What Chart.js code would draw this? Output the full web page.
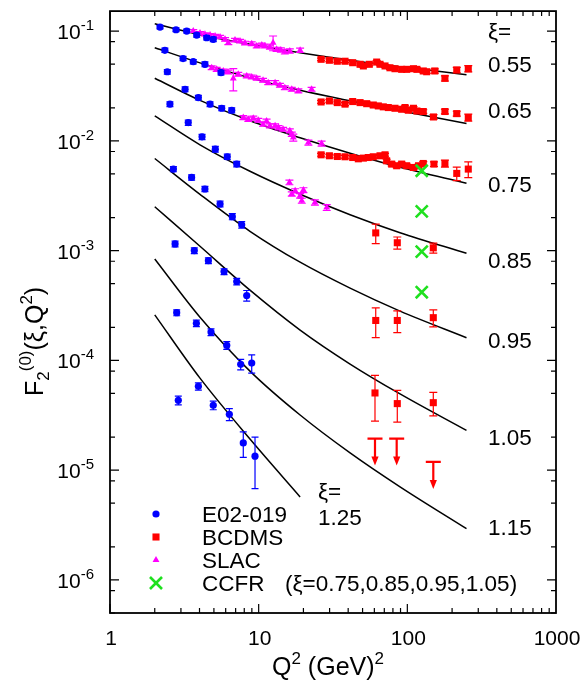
<!DOCTYPE html>
<html>
<head>
<meta charset="utf-8">
<script src="https://cdn.jsdelivr.net/npm/chart.js@4.4.1/dist/chart.umd.min.js"></script>
<style>
  html, body { margin: 0; padding: 0; background: #ffffff; }
  #wrap { width: 587px; height: 685px; position: relative; }
</style>
</head>
<body>
<div id="wrap"><canvas id="chart"></canvas></div>
<script>
// ---- axes ----
const X_MIN = 1, X_MAX = 1000;
const Y_MIN = 5e-7, Y_MAX = 0.152;
const xTickValues = [1, 10, 100, 1000];
const xTickLabels = ['1', '10', '100', '1000'];
const yTickExponents = [-6, -5, -4, -3, -2, -1];
const yMinorMantissas = [2, 5, 8];

// ---- curve labels ----
const xiLabels = ['0.55', '0.65', '0.75', '0.85', '0.95', '1.05', '1.15'];

// ---- model curves  [Q2, F2] ----
const curve055 = [[2.0,0.1165],[4.03,0.0926],[8.74,0.07586],[19.0,0.06349],[41.2,0.05426],[89.3,0.04737],[250,0.04006]];
const curve065 = [[2.0,0.0705],[4.03,0.0513],[8.74,0.03747],[19.0,0.02884],[41.2,0.02314],[89.3,0.01878],[250,0.01439]];
const curve075 = [[2.0,0.0372],[4.03,0.02339],[8.74,0.01523],[19.0,0.01067],[41.2,0.00772],[89.3,0.00575],[250,0.004115]];
const curve085 = [[2.0,0.01688],[4.03,0.0092],[8.74,0.00528],[19.0,0.003263],[41.2,0.002125],[89.3,0.001457],[250,0.000945]];
const curve095 = [[2.0,0.0069],[4.03,0.003256],[8.74,0.001501],[19.0,0.000784],[41.2,0.000455],[89.3,0.000281],[250,0.0001609]];
const curve105 = [[2.0,0.00251],[4.03,0.001096],[8.74,0.0004365],[19.0,0.000189],[41.2,9.27e-5],[89.3,4.95e-5],[250,2.30e-5]];
const curve115 = [[2.0,8.4e-4],[4.03,2.475e-4],[8.74,7.99e-5],[19.0,3.18e-5],[41.2,1.437e-5],[89.3,7.05e-6],[250,2.93e-6]];
const curve125 = [[2.0,2.6e-4],[4.03,6.89e-5],[8.74,1.921e-5],[19.0,5.71e-6]];

// ---- E02-019  [Q2, F2, error] ----
const e02_055 = [[2.17,0.1087,0.004],[2.78,0.1028,0.004],[3.28,0.1000,0.004],[3.83,0.0920,0.004],[4.47,0.0869,0.004],[4.95,0.0841,0.004]];
const e02_065 = [[2.34,0.0668,0.003],[3.10,0.0562,0.0025],[3.63,0.0526,0.0025],[4.35,0.0498,0.0025],[5.58,0.0418,0.002]];
const e02_075 = [[2.43,0.0426,0.002],[3.20,0.0295,0.0015],[3.93,0.0248,0.0012],[4.71,0.0216,0.0011],[5.64,0.0198,0.001],[6.59,0.0190,0.001]];
const e02_085 = [[2.53,0.0216,0.0011],[3.36,0.01466,0.0008],[4.16,0.01087,0.0006],[5.11,0.0084,0.0005],[6.15,0.00716,0.0004],[7.12,0.00614,0.00035]];
const e02_095 = [[2.67,0.00553,0.0003],[3.54,0.00464,0.00025],[4.35,0.00364,0.0002],[5.50,0.00266,0.00016],[6.65,0.00204,0.00013],[7.69,0.00172,0.00012]];
const e02_105 = [[2.74,0.00115,0.00007],[3.69,0.00100,0.00006],[4.59,0.00081,0.00005],[5.85,0.000644,0.00004],[7.12,0.000523,0.000035],[8.31,0.00039,0.000043]];
const e02_115 = [[2.81,2.72e-4,1.7e-5],[3.81,2.18e-4,1.5e-5],[4.78,1.81e-4,1.3e-5],[6.10,1.37e-4,1.1e-5],[7.57,9.2e-5,1.0e-5],[8.98,9.45e-5,1.8e-5]];
const e02_125 = [[2.88,4.33e-5,4e-6],[3.93,5.8e-5,4.5e-6],[4.95,3.9e-5,3.5e-6],[6.35,3.23e-5,4e-6],[7.88,1.77e-5,4.6e-6],[9.45,1.34e-5,6.6e-6]];

// ---- BCDMS  [Q2, F2, error] ----
const bcdms_055 = [[26.3,0.0553,0.0015],[29.9,0.0542,0.0015],[33.8,0.0531,0.0015],[38.1,0.0531,0.0015],[42.9,0.0515,0.0015],[48.1,0.0498,0.0015],[50.6,0.0481,0.0015],[55.5,0.0498,0.0015],[62.2,0.0522,0.0015],[65.5,0.0498,0.0015],[70.8,0.0481,0.0015],[76.4,0.0463,0.0015],[82.6,0.0454,0.0015],[91.6,0.0448,0.0015],[99.0,0.0448,0.0015],[110,0.0454,0.0015],[116,0.0448,0.0015],[128,0.0433,0.0015],[135,0.0426,0.0015],[153,0.0433,0.002],[179,0.0371,0.002],[215,0.0442,0.0025],[257,0.0454,0.003]];
const bcdms_065 = [[26.3,0.0226,0.0007],[29.9,0.0231,0.0007],[33.8,0.0223,0.0007],[38.1,0.0216,0.0007],[42.9,0.0228,0.0007],[48.1,0.0223,0.0007],[53.3,0.0218,0.0007],[59.0,0.0212,0.0007],[63.8,0.0208,0.0007],[68.9,0.0204,0.0007],[74.5,0.0201,0.0007],[82.6,0.0198,0.0007],[91.6,0.0194,0.0007],[96.5,0.0201,0.0007],[101.5,0.0190,0.0007],[110,0.0198,0.0007],[116,0.0187,0.0007],[128,0.0185,0.0007],[150,0.0165,0.0008],[179,0.0185,0.0009],[215,0.0177,0.0009],[257,0.0163,0.0012]];
const bcdms_075 = [[26.3,0.00746,0.00022],[29.9,0.00731,0.00022],[33.8,0.00720,0.00022],[38.1,0.00716,0.00022],[42.9,0.00705,0.00022],[46.8,0.00686,0.00022],[50.6,0.00696,0.00022],[54.6,0.00705,0.00022],[59.0,0.00716,0.00022],[65.5,0.00731,0.00022],[70.8,0.00746,0.00022],[72.6,0.00658,0.00022],[78.5,0.00614,0.00022],[84.8,0.00593,0.00022],[91.6,0.00614,0.00022],[99.0,0.00593,0.00022],[110,0.00572,0.00022],[119,0.00593,0.00022],[128,0.00622,0.00025],[151,0.00614,0.0003],[179,0.00622,0.00045],[215,0.00505,0.0007],[257,0.00553,0.0009]];
const bcdms_085 = [[61.3,0.00145,0.00029],[85.6,0.00118,0.00015],[149.5,0.00106,0.00011]];
const bcdms_095 = [[61.3,2.31e-4,0.7e-4],[85.6,2.31e-4,0.52e-4],[149.5,2.45e-4,0.43e-4]];
const bcdms_105 = [[60.6,5.05e-5,2.25e-5],[85.6,4.04e-5,1.3e-5],[149.5,4.12e-5,1.0e-5]];
// upper limits at xi = 1.15  [Q2, F2 limit]
const bcdms_115_limits = [[60.6,1.94e-5],[84.8,1.94e-5],[149.5,1.19e-5]];

// ---- SLAC  [Q2, F2, error] ----
const slac_055 = [[3.63,0.1000,0.003],[4.03,0.0959,0.003],[4.35,0.0933,0.003],[4.71,0.0920,0.003],[5.09,0.0901,0.003],[5.50,0.0882,0.003],[5.94,0.0841,0.003],[6.25,0.0782,0.003],[6.93,0.0828,0.003],[7.49,0.0811,0.003],[8.09,0.0778,0.003],[8.98,0.0766,0.003],[9.70,0.0731,0.003],[10.5,0.0746,0.003],[11.0,0.0731,0.003],[11.9,0.0715,0.003],[12.5,0.0782,0.012],[13.2,0.0682,0.003],[14.1,0.0672,0.003],[15.0,0.0648,0.003],[16.2,0.0658,0.003],[19.0,0.0668,0.003]];
const slac_065 = [[4.83,0.0464,0.0018],[5.22,0.0448,0.0018],[5.78,0.0433,0.0017],[6.22,0.0424,0.0017],[6.75,0.0370,0.0085],[7.29,0.0404,0.0016],[8.31,0.0390,0.0015],[8.98,0.0382,0.0015],[9.70,0.0372,0.0015],[10.7,0.0356,0.0014],[11.6,0.0339,0.0014],[12.9,0.0339,0.0014],[13.9,0.0321,0.0013],[15.0,0.0305,0.0012],[16.7,0.0295,0.0012],[18.5,0.0285,0.0012],[22.7,0.0295,0.0012]];
const slac_075 = [[7.88,0.0163,0.0007],[8.52,0.01575,0.0007],[9.20,0.0161,0.0007],[9.94,0.01542,0.0006],[10.7,0.01418,0.0006],[11.3,0.0152,0.0006],[11.9,0.01369,0.0006],[12.9,0.01369,0.0006],[13.6,0.0132,0.0006],[14.6,0.01278,0.0005],[16.2,0.01233,0.0005],[16.7,0.0115,0.0005],[17.1,0.01072,0.0008],[21.6,0.00965,0.0005],[26.5,0.00945,0.0005]];
const slac_085 = [[16.1,0.00418,0.0002],[16.7,0.00328,0.00015],[17.6,0.00351,0.00015],[19.0,0.00316,0.00015],[20.0,0.00356,0.00018],[19.5,0.00285,0.00015],[23.9,0.00275,0.00015],[28.7,0.00247,0.00015]];

// ---- CCFR  [Q2, F2] at xi = 0.75, 0.85, 0.95, 1.05 ----
const ccfr = [[125,0.00534],[125,0.00228],[125,0.00098],[125,0.000418]];

// ---- styling ----
const FONT = '"Liberation Sans", Arial, Helvetica, sans-serif';
const BLUE = '#0000ff', RED = '#ff0000', MAGENTA = '#ff00ff', GREEN = '#1fe01f';

const toPts = arr => arr.map(p => ({ x: p[0], y: p[1] }));
const toErr = arr => arr.map(p => p[2] || 0);

const curves = [curve055, curve065, curve075, curve085, curve095, curve105, curve115, curve125];
const e02All = [].concat(e02_055, e02_065, e02_075, e02_085, e02_095, e02_105, e02_115, e02_125);
const bcdmsAll = [].concat(bcdms_055, bcdms_065, bcdms_075, bcdms_085, bcdms_095, bcdms_105);
const slacAll = [].concat(slac_055, slac_065, slac_075, slac_085);

const datasets = [];
curves.forEach(c => datasets.push({
  data: toPts(c), showLine: true, borderColor: '#000', borderWidth: 1.5,
  pointRadius: 0, fill: false, cubicInterpolationMode: 'monotone', order: 10
}));
datasets.push({
  label: 'E02-019', data: toPts(e02All), errors: toErr(e02All), legendRow: 0,
  pointStyle: 'circle', pointRadius: 3.6, backgroundColor: BLUE, borderColor: BLUE,
  pointBorderWidth: 0, errCap: 3.5, order: 1
});
datasets.push({
  label: 'BCDMS', data: toPts(bcdmsAll), errors: toErr(bcdmsAll), legendRow: 1,
  pointStyle: 'rect', pointRadius: 5, backgroundColor: RED, borderColor: RED,
  pointBorderWidth: 0, errCap: 4, order: 2
});
datasets.push({
  data: toPts(bcdms_115_limits), upperLimit: true, pointRadius: 0,
  borderColor: RED, backgroundColor: RED, order: 2
});
datasets.push({
  label: 'SLAC', data: toPts(slacAll), errors: toErr(slacAll), legendRow: 2,
  pointStyle: 'triangle', pointRadius: 4, backgroundColor: MAGENTA, borderColor: MAGENTA,
  pointBorderWidth: 0, errCap: 4, order: 3
});
datasets.push({
  label: 'CCFR', data: toPts(ccfr), legendRow: 3,
  pointStyle: 'crossRot', pointRadius: 8.5, backgroundColor: GREEN, borderColor: GREEN,
  pointBorderWidth: 2.6, order: 0
});

// draws a run of text pieces, each with its own size and vertical shift
function drawRich(ctx, parts, x, y, measureOnly) {
  let cx = x;
  for (const p of parts) {
    ctx.font = p.size + 'px ' + FONT;
    if (!measureOnly) ctx.fillText(p.t, cx, y + (p.dy || 0));
    cx += ctx.measureText(p.t).width;
  }
  return cx - x;
}

// vertical error bars under each marker, and upper-limit arrows
const errorBars = {
  id: 'errorBars',
  beforeDatasetDraw(chart, args) {
    const ds = chart.data.datasets[args.index];
    if (!ds.errors) return;
    const { ctx, scales: { x, y } } = chart;
    const cap = ds.errCap || 4;
    ctx.save();
    ctx.strokeStyle = ds.borderColor;
    ctx.lineWidth = 1.2;
    ds.data.forEach((p, i) => {
      const e = ds.errors[i];
      if (!e) return;
      const px = x.getPixelForValue(p.x);
      const top = y.getPixelForValue(p.y + e);
      const bot = y.getPixelForValue(Math.max(p.y - e, Y_MIN * 0.1));
      ctx.beginPath();
      ctx.moveTo(px, top); ctx.lineTo(px, bot);
      ctx.moveTo(px - cap, top); ctx.lineTo(px + cap, top);
      ctx.moveTo(px - cap, bot); ctx.lineTo(px + cap, bot);
      ctx.stroke();
    });
    ctx.restore();
  },
  afterDatasetDraw(chart, args) {
    const ds = chart.data.datasets[args.index];
    if (!ds.upperLimit) return;
    const { ctx, scales: { x, y } } = chart;
    ctx.save();
    ctx.strokeStyle = ds.borderColor;
    ctx.fillStyle = ds.borderColor;
    ctx.lineWidth = 2.2;
    ds.data.forEach(p => {
      const px = x.getPixelForValue(p.x);
      const py = y.getPixelForValue(p.y);
      const len = 27, head = 9, hw = 3.6;
      ctx.beginPath();
      ctx.moveTo(px - 7.5, py); ctx.lineTo(px + 7.5, py);
      ctx.moveTo(px, py); ctx.lineTo(px, py + len - head + 1);
      ctx.stroke();
      ctx.beginPath();
      ctx.moveTo(px - hw, py + len - head);
      ctx.lineTo(px + hw, py + len - head);
      ctx.lineTo(px, py + len);
      ctx.closePath();
      ctx.fill();
    });
    ctx.restore();
  }
};

// frame, inward ticks, tick labels, titles, curve labels and legend
const decorations = {
  id: 'decorations',
  afterDraw(chart) {
    const { ctx, chartArea: a, scales: { x, y } } = chart;
    ctx.save();
    ctx.strokeStyle = '#000';
    ctx.fillStyle = '#000';

    // ticks
    ctx.lineWidth = 1.2;
    ctx.beginPath();
    for (let d = 0; d < xTickValues.length - 1; d++) {
      for (let m = 1; m <= 9; m++) {
        const px = x.getPixelForValue(xTickValues[d] * m);
        const len = m === 1 ? 9 : 5;
        ctx.moveTo(px, a.bottom); ctx.lineTo(px, a.bottom - len);
        ctx.moveTo(px, a.top); ctx.lineTo(px, a.top + len);
      }
    }
    for (let e = -7; e <= 0; e++) {
      const vals = [[Math.pow(10, e), 9]].concat(yMinorMantissas.map(m => [m * Math.pow(10, e), 5]));
      for (const [v, len] of vals) {
        if (v < Y_MIN || v > Y_MAX) continue;
        const py = y.getPixelForValue(v);
        ctx.moveTo(a.left, py); ctx.lineTo(a.left + len, py);
        ctx.moveTo(a.right, py); ctx.lineTo(a.right - len, py);
      }
    }
    ctx.stroke();

    // frame
    ctx.lineWidth = 1.8;
    ctx.strokeRect(a.left, a.top, a.right - a.left, a.bottom - a.top);

    // x tick labels
    ctx.textBaseline = 'alphabetic';
    ctx.textAlign = 'center';
    ctx.font = '21px ' + FONT;
    xTickValues.forEach((v, i) => {
      ctx.fillText(xTickLabels[i], x.getPixelForValue(v) + 1, a.bottom + 32);
    });

    // y tick labels: 10 with exponent superscript, right aligned
    ctx.textAlign = 'left';
    yTickExponents.forEach(e => {
      const py = y.getPixelForValue(Math.pow(10, e));
      const parts = [{ t: '10', size: 21 }, { t: String(e), size: 15, dy: -9 }];
      const w = drawRich(ctx, parts, 0, 0, true);
      drawRich(ctx, parts, a.left - 16 - w, py + 8);
    });

    // x axis title
    const xt = [{ t: 'Q', size: 25 }, { t: '2', size: 17, dy: -11 }, { t: ' (GeV)', size: 25 }, { t: '2', size: 17, dy: -11 }];
    const xw = drawRich(ctx, xt, 0, 0, true);
    drawRich(ctx, xt, (a.left + a.right) / 2 - 5 - xw / 2, 675);

    // y axis title (rotated): F, subscript 2, superscript (0), then (xi,Q^2)
    const yt = [
      { t: 'F', size: 25 },
      { t: '2', size: 17, dy: 6 },
      { t: '(0)', size: 17, dy: -12 },
      { t: '(\u03be,Q', size: 25 },
      { t: '2', size: 17, dy: -11 },
      { t: ')', size: 25 }
    ];
    ctx.save();
    ctx.translate(43, 396);
    ctx.rotate(-Math.PI / 2);
    drawRich(ctx, yt, 0, 0);
    ctx.restore();

    // curve labels on the right
    ctx.font = '22.5px ' + FONT;
    ctx.fillText('\u03be=', 488, 39);
    const labelBase = [72, 118, 192, 268, 348, 445, 535];
    xiLabels.forEach((t, i) => ctx.fillText(t, 488, labelBase[i]));
    ctx.fillText('\u03be=', 318, 499);
    ctx.fillText('1.25', 318, 525);

    // legend
    const rowY = [514, 537, 560, 583];
    const H = Chart.helpers;
    chart.data.datasets.forEach(ds => {
      if (ds.legendRow === undefined) return;
      const ry = rowY[ds.legendRow];
      ctx.save();
      ctx.fillStyle = ds.backgroundColor;
      ctx.strokeStyle = ds.borderColor;
      ctx.lineWidth = ds.pointBorderWidth || 0;
      H.drawPoint(ctx, { pointStyle: ds.pointStyle, radius: ds.pointRadius, rotation: 0, borderWidth: ds.pointBorderWidth || 0 }, 156, ry);
      ctx.restore();
      ctx.font = '22.5px ' + FONT;
      ctx.fillText(ds.label, 202, ry + 8);
    });
    ctx.font = '22.5px ' + FONT;
    ctx.fillText('(\u03be=0.75,0.85,0.95,1.05)', 285, 591);

    ctx.restore();
  }
};

new Chart(document.getElementById('chart'), {
  type: 'scatter',
  data: { datasets },
  options: {
    responsive: true,
    maintainAspectRatio: false,
    animation: false,
    devicePixelRatio: 1,
    layout: { padding: { left: 110, top: 10, right: 31, bottom: 72 } },
    plugins: { legend: { display: false }, tooltip: { enabled: false } },
    scales: {
      x: { type: 'logarithmic', min: X_MIN, max: X_MAX, display: false },
      y: { type: 'logarithmic', min: Y_MIN, max: Y_MAX, display: false }
    }
  },
  plugins: [errorBars, decorations]
});
</script>
</body>
</html>
